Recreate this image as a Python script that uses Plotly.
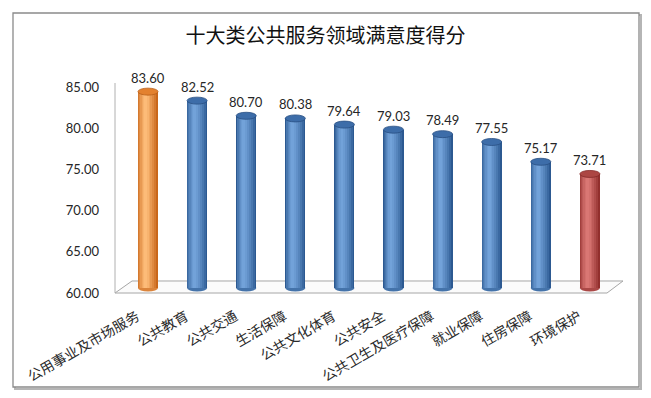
import plotly.graph_objects as go

# ---------------- data ----------------
categories = ["公用事业及市场服务", "公共教育", "公共交通", "生活保障", "公共文化体育",
              "公共安全", "公共卫生及医疗保障", "就业保障", "住房保障", "环境保护"]
scores = [83.60, 82.52, 80.70, 80.38, 79.64, 79.03, 78.49, 77.55, 75.17, 73.71]
color_keys = ["orange"] + ["blue"] * 8 + ["red"]
y_ticks = [60, 65, 70, 75, 80, 85]
title = "十大类公共服务领域满意度得分"

# ---------------- styles ----------------
palette = {
    "orange": {"dark": "#c9671a", "light": "#fdbb78", "cap": "#e3812f", "rim": "#b95e18"},
    "blue":   {"dark": "#2c5991", "light": "#72a2d9", "cap": "#3d6da9", "rim": "#284f83"},
    "red":    {"dark": "#922f2d", "light": "#da7774", "cap": "#ac4643", "rim": "#842a28"},
}
W, H = 651, 398
L, R, T, B = 110, 625, 70, 300          # plot area in pixels
BASE = 60.0
x_range = [-0.774, 9.715]
y_range = [58.56, 86.20]                 # bars (front plane)
y2_range = [59.15, 87.06]                # tick labels (3D back wall offset)
BAR_W = 0.41
CAP_H = 0.42
# gradient layers: (width fraction, mix toward light, centre shift as fraction of width)
GRAD = [(1.00, 0.00, 0.00), (0.90, 0.22, -0.03), (0.76, 0.42, -0.06),
        (0.60, 0.60, -0.08), (0.44, 0.76, -0.10), (0.28, 0.90, -0.11), (0.14, 1.00, -0.12)]

xs = list(range(len(categories)))
lengths = [v - BASE for v in scores]


def mix(c1, c2, t):
    a = [int(c1[i:i + 2], 16) for i in (1, 3, 5)]
    b = [int(c2[i:i + 2], 16) for i in (1, 3, 5)]
    return "#" + "".join(f"{round(p + (q - p) * t):02x}" for p, q in zip(a, b))


def px_x(p):
    return (p - L) / (R - L)


def px_y(p):
    return (B - p) / (B - T)


fig = go.Figure()

# cylinder body built from overlaid bars approximating a horizontal gradient
for frac, t, shift in GRAD:
    w = BAR_W * frac
    fig.add_trace(go.Bar(
        x=xs, y=lengths, base=BASE, width=w, offset=-w / 2 + shift * BAR_W,
        marker=dict(color=[mix(palette[k]["dark"], palette[k]["light"], t) for k in color_keys],
                    line=dict(width=0)),
        hoverinfo="skip", showlegend=False,
    ))

# dummy trace to activate the tick-label axis
fig.add_trace(go.Scatter(x=[None], y=[None], yaxis="y2", showlegend=False, hoverinfo="skip"))

shapes = []
# outer frame with shadow
shapes.append(dict(type="rect", xref="paper", yref="paper",
                   x0=px_x(15), x1=px_x(641), y0=px_y(389), y1=px_y(15),
                   line=dict(color="#b5b5b5", width=2), layer="below"))
shapes.append(dict(type="rect", xref="paper", yref="paper",
                   x0=px_x(13), x1=px_x(639), y0=px_y(387), y1=px_y(13),
                   line=dict(color="#8a8a8a", width=1.3), fillcolor="white", layer="below"))
# 3D floor and wall edge
floor = [(115, 293), (132, 281), (623, 281), (607, 293)]
path = "M " + " L ".join(f"{px_x(a):.5f},{px_y(b):.5f}" for a, b in floor) + " Z"
shapes.append(dict(type="path", xref="paper", yref="paper", path=path,
                   line=dict(color="#a6a6a6", width=1), fillcolor="#fbfbfb", layer="below"))
shapes.append(dict(type="line", xref="paper", yref="paper",
                   x0=px_x(115), x1=px_x(115), y0=px_y(293), y1=px_y(83),
                   line=dict(color="#b0b0b0", width=1), layer="below"))

# cylinder bottom and top caps
for x, v, k in zip(xs, scores, color_keys):
    shapes.append(dict(type="circle", xref="x", yref="y",
                       x0=x - BAR_W / 2, x1=x + BAR_W / 2, y0=BASE - CAP_H, y1=BASE + CAP_H,
                       fillcolor=mix(palette[k]["dark"], palette[k]["light"], 0.35),
                       line=dict(width=0), layer="below"))
    shapes.append(dict(type="circle", xref="x", yref="y",
                       x0=x - BAR_W / 2, x1=x + BAR_W / 2, y0=v - CAP_H, y1=v + CAP_H,
                       fillcolor=palette[k]["cap"], line=dict(color=palette[k]["rim"], width=0.8),
                       layer="above"))

annotations = []
for x, v in zip(xs, scores):
    annotations.append(dict(x=x, y=v, xref="x", yref="y", text=f"{v:.2f}",
                            showarrow=False, yshift=14, yanchor="middle",
                            font=dict(family="Lato, Liberation Sans, sans-serif", size=13, color="#262626")))

fig.update_layout(
    width=W, height=H, autosize=False,
    margin=dict(l=L, r=W - R, t=T, b=H - B, pad=0),
    paper_bgcolor="white", plot_bgcolor="rgba(0,0,0,0)",
    barmode="overlay", bargap=0,
    title=dict(text=title, x=0.5, xanchor="center", y=1 - 36 / H, yanchor="middle",
               font=dict(family="Noto Sans CJK SC", size=20, color="#111111")),
    xaxis=dict(range=x_range, tickmode="array", tickvals=xs, ticktext=categories,
               tickangle=-30, showgrid=False, zeroline=False, showline=False, ticks="",
               ticklabelshift=-11, ticklabelstandoff=5,
               tickfont=dict(family="Noto Sans CJK SC", size=14, color="#2a2a2a")),
    yaxis=dict(range=y_range, showticklabels=False, showgrid=False, zeroline=False,
               showline=False, ticks=""),
    yaxis2=dict(range=y2_range, overlaying="y", side="left", tickmode="array",
                tickvals=y_ticks, ticktext=[f"{t:.2f}" for t in y_ticks],
                showgrid=False, zeroline=False, showline=False, ticks="",
                ticklabelstandoff=10,
                tickfont=dict(family="Lato, Liberation Sans, sans-serif", size=13, color="#262626")),
    shapes=shapes,
    annotations=annotations,
)

fig.write_html("out.html", config={"displayModeBar": False},
               post_script="document.body.style.margin='0';document.body.style.overflow='hidden';")
